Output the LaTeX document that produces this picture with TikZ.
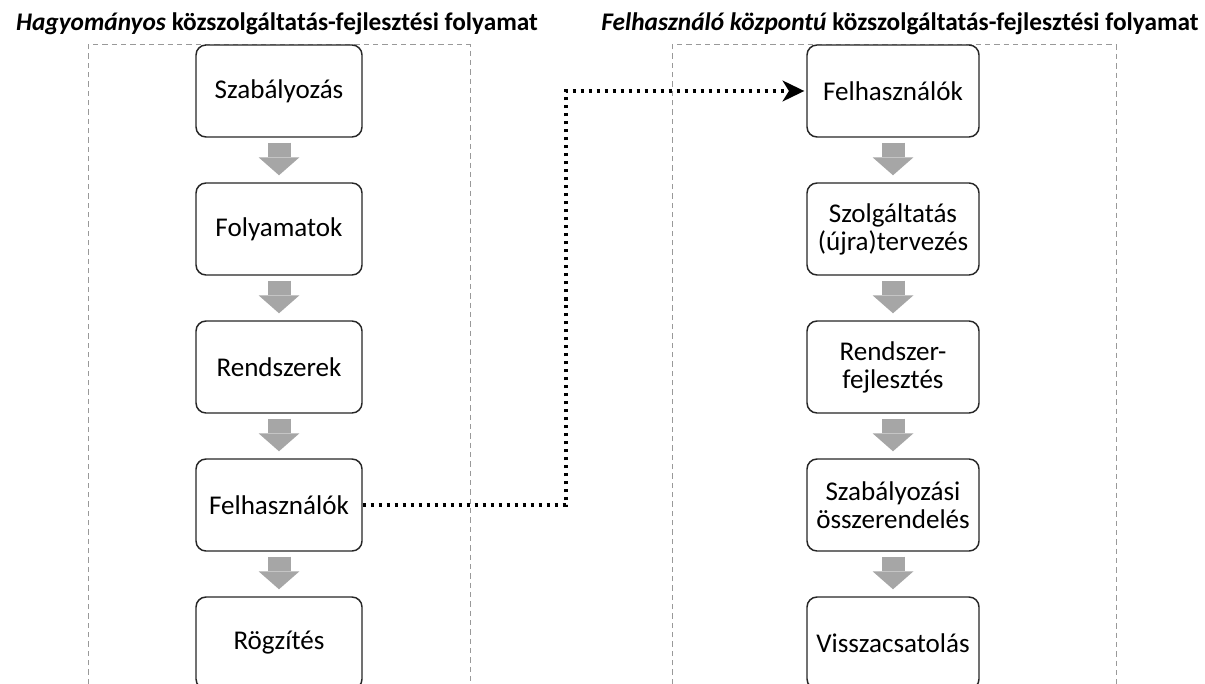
\documentclass[tikz,border=0pt]{standalone}
\usepackage{fontspec}
\setmainfont{Carlito}
\usetikzlibrary{arrows.meta}

\tikzset{
    lepes/.style={draw=black!85, line width=1.1pt, rounded corners=7.5pt,
        fill=white, minimum height=69pt, align=center, inner sep=2pt,
        font=\fontsize{20.3}{21}\selectfont},
    keret/.style={draw=black!40, line width=0.75pt, dash pattern=on 4pt off 3pt},
    nyil/.style={draw=black!35, line width=17.25pt,
        -{Triangle[length=13.5pt,width=30.75pt,line width=0pt]},
        shorten <=3.75pt, shorten >=5.25pt},
    ugras/.style={line width=2.7pt, dash pattern=on 2.7pt off 3.3pt,
        -{Stealth[length=16.5pt,width=16pt,inset=5pt,line width=0pt]},
        shorten >=1.5pt},
    cim/.style={anchor=base, font=\fontsize{19}{21}\selectfont\bfseries}
}

\begin{document}
\begin{tikzpicture}[x=0.75pt,y=-0.75pt]
                \clip (0,0) rectangle (1205,684);

                % titles
                \node[cim] (cim1) at (277,31)
                    {\textit{Hagyományos} közszolgáltatás-fejlesztési folyamat};
                \node[cim] (cim2) at (900,31)
                    {\textit{Felhasználó központú} közszolgáltatás-fejlesztési folyamat};

                % dashed frames, open at the bottom
                \draw[keret] (88,684) -- (88,45) -- (470,45) -- (470,684);
                \draw[keret] (672,684) -- (672,45) -- (1116,45) -- (1116,684);

                % traditional process
                \node[lepes, minimum width=124.5pt] (sz) at (279,91) {Szabályozás};
                \node[lepes, minimum width=124.5pt] (fo) at (279,229) {Folyamatok};
                \node[lepes, minimum width=124.5pt] (re) at (279,367) {Rendszerek};
                \node[lepes, minimum width=124.5pt] (fe) at (279,505) {Felhasználók};
                \node[lepes, minimum width=124.5pt] (ro) at (279,643) {Rögzítés};

                % user centred process
                \node[lepes, minimum width=129pt] (fh) at (893,91) {Felhasználók};
                \node[lepes, minimum width=129pt] (sv) at (893,229) {Szolgáltatás\\(újra)tervezés};
                \node[lepes, minimum width=129pt] (rf) at (893,367) {Rendszer-\\fejlesztés};
                \node[lepes, minimum width=129pt] (so) at (893,505) {Szabályozási\\összerendelés};
                \node[lepes, minimum width=129pt] (vi) at (893,643) {Visszacsatolás};

                \foreach \a/\b in {sz/fo, fo/re, re/fe, fe/ro, fh/sv, sv/rf, rf/so, so/vi}
                    \draw[nyil] (\a.south) -- (\b.north);

                % jump from one process to the other
                \coordinate (kanyar) at (566,300);
                \draw[ugras] (fe.east) -| (kanyar) |- (fh.west);
            \end{tikzpicture}
\end{document}
